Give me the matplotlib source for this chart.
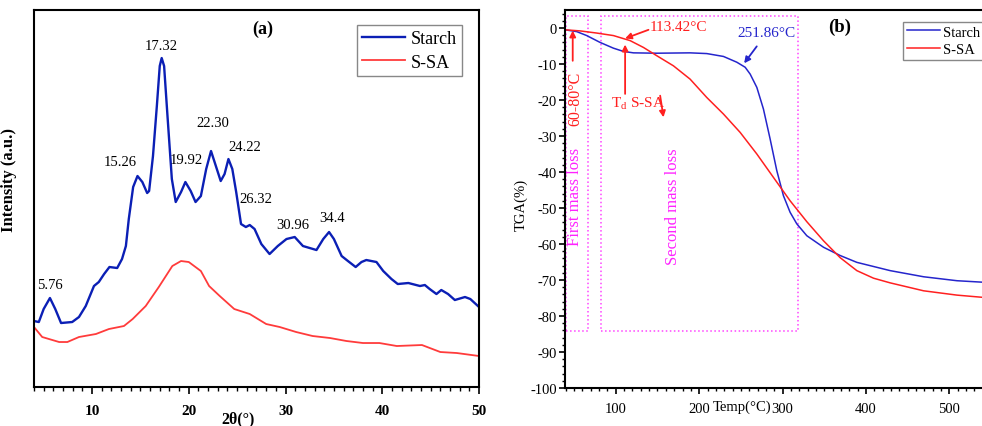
import matplotlib
matplotlib.use("Agg")
import matplotlib.pyplot as plt
from matplotlib.patches import Rectangle
from matplotlib.ticker import MultipleLocator

plt.rcParams['font.family'] = 'serif'
plt.rcParams['font.serif'] = ['Liberation Serif', 'DejaVu Serif']
plt.rcParams['mathtext.fontset'] = 'custom'
plt.rcParams['mathtext.rm'] = 'Liberation Serif'
plt.rcParams['axes.unicode_minus'] = False

# ---- (a) XRD data (arbitrary intensity) ----
starch_2theta = [4.0, 4.5, 5.0, 5.65, 6.2, 6.8, 7.95, 8.65, 9.35, 10.2, 10.7, 11.25, 11.8,
                 12.6, 13.1, 13.5, 13.8, 14.25, 14.7, 15.2, 15.7, 15.9, 16.3, 16.7, 17.0,
                 17.2, 17.45, 17.8, 18.25, 18.65, 19.2, 19.65, 20.2, 20.7, 21.25, 21.8,
                 22.3, 22.8, 23.3, 23.7, 24.1, 24.5, 24.9, 25.4, 25.9, 26.3, 26.8, 27.5,
                 28.35, 29.2, 30.1, 30.95, 31.8, 33.2, 33.9, 34.5, 35.0, 35.8, 36.45, 37.25,
                 37.85, 38.35, 39.4, 40.1, 40.95, 41.6, 42.7, 43.9, 44.4, 44.9, 45.6, 46.1,
                 46.8, 47.5, 48.55, 49.1, 50.0]
starch_int = [66, 65, 78, 89, 78, 64, 65, 70, 81, 101, 105, 113, 120,
              119, 128, 141, 168, 200, 211, 205, 194, 196, 231, 281, 321,
              329, 321, 271, 208, 185, 195, 205, 196, 185, 191, 218,
              236, 221, 206, 213, 228, 218, 195, 163, 160, 162, 158, 143,
              133, 141, 148, 150, 141, 137, 148, 155, 148, 131, 126, 120,
              125, 127, 125, 116, 108, 103, 104, 101, 102, 98, 93, 97,
              93, 87, 90, 88, 80]
ssa_2theta = [4.0, 4.85, 6.6, 7.45, 8.65, 10.4, 11.75, 13.3, 14.2, 15.55, 16.9, 18.3, 19.2,
              20.0, 21.25, 22.1, 23.2, 24.7, 26.3, 28.0, 29.4, 31.1, 32.8, 34.6, 36.3,
              38.0, 39.7, 41.5, 44.1, 46.0, 47.7, 50.0]
ssa_int = [60, 50, 45, 45, 50, 53, 58, 61, 68, 81, 100, 121, 126,
           125, 116, 101, 91, 78, 73, 63, 60, 55, 51, 49, 46,
           44, 44, 41, 42, 35, 34, 31]
peak_labels = ['5.76', '15.26', '17.32', '19.92', '22.30', '24.22', '26.32', '30.96', '34.4']
peak_label_x = [5.6, 12.9, 17.2, 19.7, 22.5, 25.75, 26.9, 30.7, 34.8]
peak_label_y = [103, 226, 342, 228, 265, 241, 189, 163, 170]

# ---- (b) TGA data ----
starch_temp = [39.2, 53.2, 65.2, 81.2, 97.2, 109.2, 121.2, 149.2, 189.1, 209.1, 229.1, 245.1,
               255.1, 261.1, 269.1, 277, 285, 293, 301, 309, 317, 329, 349, 369, 389, 429,
               469, 509, 539]
starch_tga = [-0.5, -1.0, -2.1, -4.0, -5.6, -6.5, -6.9, -7.0, -6.9, -7.1, -7.9, -9.5,
              -10.9, -12.8, -16.5, -22.5, -30.8, -39.6, -46.6, -51.2, -54.4, -57.7, -60.9,
              -63.2, -65.1, -67.4, -69.1, -70.2, -70.6]
ssa_temp = [39.2, 57.2, 77.2, 97.2, 117.2, 133.2, 149.2, 169.1, 189.1, 209.1, 229.1, 249.1,
            269.1, 289, 309, 329, 349, 369, 389, 409, 429, 469, 509, 539]
ssa_tga = [-0.5, -0.8, -1.4, -2.1, -3.5, -5.4, -7.7, -10.5, -14.2, -19.3, -23.9, -29.0,
           -35.0, -41.5, -48.0, -53.8, -59.1, -63.8, -67.4, -69.5, -70.8, -73.0, -74.2, -74.8]

fig = plt.figure(figsize=(9.82, 4.27), dpi=100)

# ================= panel (a) =================
ax1 = fig.add_axes([0.0346, 0.0913, 0.4532, 0.8829])
ax1.plot(starch_2theta, starch_int, color='#0b1fb5', lw=1.7, label='Starch')
ax1.plot(ssa_2theta, ssa_int, color='#ff3b3b', lw=1.3, label='S-SA')
ax1.set_xlim(4, 50)
ax1.set_ylim(0, 377)
ax1.set_yticks([])
ax1.xaxis.set_major_locator(MultipleLocator(10))
ax1.xaxis.set_minor_locator(MultipleLocator(1))
ax1.tick_params(axis='x', which='major', length=5, width=1.2, pad=7, labelsize=11)
ax1.tick_params(axis='x', which='minor', length=3, width=1)
for lab in ax1.get_xticklabels():
    lab.set_fontweight('bold')
for s in ax1.spines.values():
    s.set_linewidth(1.5)
ax1.set_xlabel('2θ(°)', fontsize=11.5, fontweight='bold')
ax1.xaxis.set_label_coords(0.458, -0.062)
ax1.set_ylabel('Intensity (a.u.)', fontsize=12, fontweight='bold')
ax1.yaxis.set_label_coords(-0.038, 0.552)

for t, x, y in zip(peak_labels, peak_label_x, peak_label_y):
    ax1.text(x, y, t, fontsize=10.5, ha='center', va='center')
ax1.text(27.6, 359, '(a)', fontsize=13, fontweight='bold', ha='center', va='center')

ax1.legend(loc='upper left', bbox_to_anchor=(0.3632, 0.9391), bbox_transform=fig.transFigure,
           fontsize=13, frameon=True, fancybox=False, edgecolor='#888888', framealpha=1,
           handlelength=2.4, handletextpad=0.3, labelspacing=0.35, borderpad=0.3,
           borderaxespad=0)

# ================= panel (b) =================
ax2 = fig.add_axes([0.5754, 0.0890, 0.4246, 0.8852])
ax2.plot(starch_temp, starch_tga, color='#2525cc', lw=1.1, label='Starch')
ax2.plot(ssa_temp, ssa_tga, color='#ff2020', lw=1.1, label='S-SA')
ax2.set_xlim(39.2, 539)
ax2.set_ylim(-100, 5)
ax2.xaxis.set_major_locator(MultipleLocator(100))
ax2.xaxis.set_minor_locator(MultipleLocator(10))
ax2.yaxis.set_major_locator(MultipleLocator(10))
ax2.yaxis.set_minor_locator(MultipleLocator(2))
ax2.tick_params(axis='both', which='major', length=4, width=1.2, labelsize=10.5)
ax2.tick_params(axis='both', which='minor', length=2.5, width=1)
ax2.tick_params(axis='x', which='major', pad=6)
ax2.tick_params(axis='y', which='major', pad=2)
ax2.spines['right'].set_visible(False)
for s in ['left', 'bottom', 'top']:
    ax2.spines[s].set_linewidth(1.5)
ax2.set_xlabel('Temp(°C)', fontsize=10.5)
ax2.xaxis.set_label_coords(0.424, -0.030)
ax2.set_ylabel('TGA(%)', fontsize=10.5)
ax2.yaxis.set_label_coords(-0.089, 0.487)

# dotted region boxes
mag = '#ff44ff'
ax2.add_patch(Rectangle((40.4, -84.1), 26.0, 87.3, fill=False, ls=':', lw=1.1, ec=mag))
ax2.add_patch(Rectangle((82.4, -84.1), 236.6, 87.3, fill=False, ls=':', lw=1.1, ec=mag))
ax2.text(51.2, -46.6, 'First mass loss', color='#ff22ff', rotation=90, fontsize=12,
         ha='center', va='center')
ax2.text(168.3, -49.4, 'Second mass loss', color='#ff22ff', rotation=90, fontsize=12,
         ha='center', va='center')

red = '#ff2020'
ap_red = dict(arrowstyle='-|>', color=red, lw=1.3, mutation_scale=9, shrinkA=0, shrinkB=0)
ax2.text(52.0, -19.3, '60-80°C', color=red, rotation=90, fontsize=11.5, ha='center', va='center')
ax2.annotate('', xy=(48.4, -0.7), xytext=(48.4, -9.1), arrowprops=ap_red)
ax2.text(140.4, 0.5, '113.42°C', color=red, fontsize=11, ha='left', va='center')
ax2.annotate('', xy=(111.2, -2.9), xytext=(139.2, -0.5), arrowprops=ap_red)
ax2.annotate('', xy=(111.2, -4.6), xytext=(111.2, -18.3), arrowprops=ap_red)
ax2.text(94, -20.6, 'T$_\\mathrm{d}$ S-SA', color=red, fontsize=11, ha='left', va='center')
ax2.annotate('', xy=(157.2, -24.8), xytext=(153.2, -18.8), arrowprops=ap_red)

blue = '#2525cc'
ax2.text(281, -1.2, '251.86°C', color=blue, fontsize=11, ha='center', va='center')
ax2.annotate('', xy=(253.9, -9.8), xytext=(269, -5.1),
             arrowprops=dict(arrowstyle='-|>', color=blue, lw=1.3, mutation_scale=9,
                             shrinkA=0, shrinkB=0))
ax2.text(368, 0.6, '(b)', fontsize=13.5, fontweight='bold', ha='center', va='center')

ax2.legend(loc='upper left', bbox_to_anchor=(0.9196, 0.9468), bbox_transform=fig.transFigure,
           fontsize=10.5, frameon=True, fancybox=False, edgecolor='#888888', framealpha=1,
           handlelength=2.3, handletextpad=0.2, labelspacing=0.3, borderpad=0.25,
           borderaxespad=0)

fig.savefig('out.png', dpi=100)
